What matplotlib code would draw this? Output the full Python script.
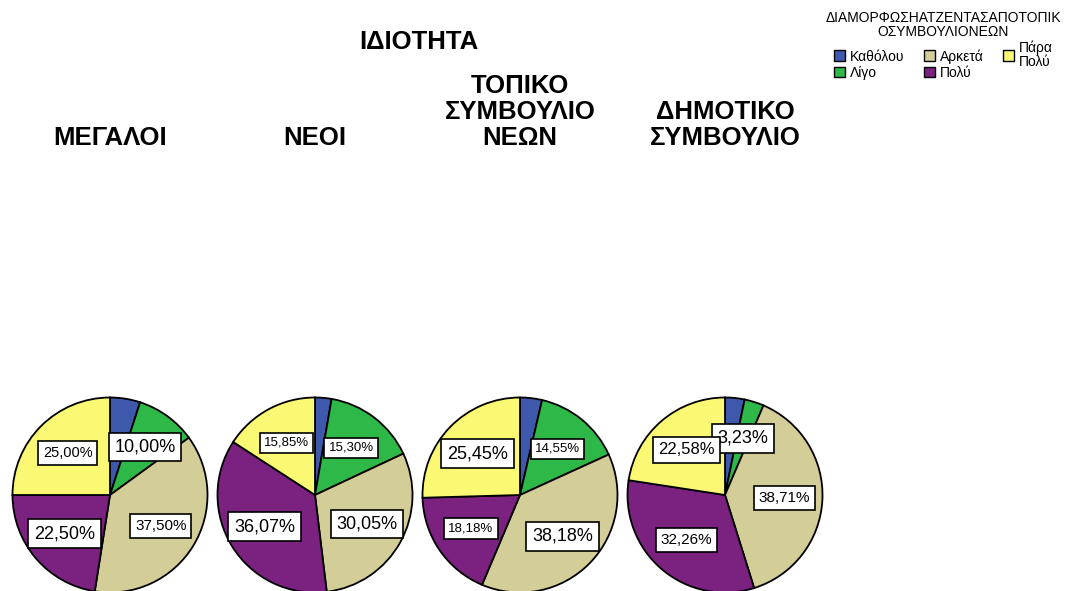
import matplotlib.pyplot as plt
from matplotlib.patches import Patch
import numpy as np

plt.rcParams['font.family'] = ['Liberation Sans', 'DejaVu Sans']

# data
groups = ['ΜΕΓΑΛΟΙ', 'ΝΕΟΙ', 'ΤΟΠΙΚΟ\nΣΥΜΒΟΥΛΙΟ\nΝΕΩΝ', 'ΔΗΜΟΤΙΚΟ\nΣΥΜΒΟΥΛΙΟ']
categories = ['Καθόλου', 'Λίγο', 'Αρκετά', 'Πολύ', 'Πάρα\nΠολύ']
megaloi = [5.00, 10.00, 37.50, 22.50, 25.00]
neoi = [2.73, 15.30, 30.05, 36.07, 15.85]
topiko = [3.64, 14.55, 38.18, 18.18, 25.45]
dimotiko = [3.23, 3.23, 38.71, 32.26, 22.58]
# which slices carry a label (SPSS dropped some)
show_label = [
    [False, True, True, True, True],
    [False, True, True, True, True],
    [False, True, True, True, True],
    [False, True, True, True, True],
]

colors = ['#3E58AC', '#2EB848', '#D3CE97', '#7B2281', '#FBF873']
# label font sizes per slice
label_sizes = [
    [10, 13, 11, 13, 10.5],
    [10, 9.5, 13, 13, 9.5],
    [10, 9.5, 13, 9.5, 13],
    [10, 13, 11, 11, 12],
]

W, H = 1071, 591
fig = plt.figure(figsize=(W / 100, H / 100), dpi=100)

centers_x = [110, 315, 520, 725]
center_y = 495
radius = 97.5

all_data = [megaloi, neoi, topiko, dimotiko]
for i, vals in enumerate(all_data):
    cx = centers_x[i]
    ax = fig.add_axes([(cx - radius) / W, (H - center_y - radius) / H,
                       2 * radius / W, 2 * radius / H])
    wedges, _ = ax.pie(vals, colors=colors, startangle=90, counterclock=False,
                       radius=1, wedgeprops=dict(edgecolor='black', linewidth=1.3))
    for w in wedges:
        w.set_clip_on(False)
    ax.set_xlim(-1, 1)
    ax.set_ylim(-1, 1)
    ax.set_aspect('equal')
    ax.axis('off')
    for j, w in enumerate(wedges):
        if not show_label[i][j]:
            continue
        mid = np.deg2rad((w.theta1 + w.theta2) / 2)
        x = 0.61 * np.cos(mid)
        y = 0.61 * np.sin(mid)
        ax.text(x, y, f'{vals[j]:.2f}%'.replace('.', ','), ha='center', va='center',
                fontsize=label_sizes[i][j],
                bbox=dict(boxstyle='square,pad=0.32', facecolor='white',
                          edgecolor='black', linewidth=1.2))

    fig.text(cx / W, 1 - 145 / H, groups[i], ha='center', va='baseline',
             fontsize=18.5, fontweight='bold', linespacing=1.1)

fig.text(419 / W, 1 - 49 / H, 'ΙΔΙΟΤΗΤΑ', ha='center', va='baseline',
         fontsize=18.5, fontweight='bold')

handles = [Patch(facecolor=c, edgecolor='black', linewidth=1) for c in colors]
leg = fig.legend(handles, categories, ncol=3, loc='upper right',
                 bbox_to_anchor=(1071 / W, 1 - 1 / H), frameon=False,
                 title='ΔΙΑΜΟΡΦΩΣΗΑΤΖΕΝΤΑΣΑΠΟΤΟΠΙΚ\nΟΣΥΜΒΟΥΛΙΟΝΕΩΝ',
                 title_fontsize=10, fontsize=10, handlelength=0.8,
                 handleheight=0.8, handletextpad=0.35, columnspacing=1.4,
                 labelspacing=0.15, borderpad=0.2)
leg.get_title().set_multialignment('center')
leg.get_title().set_linespacing(1.0)
for t in leg.get_texts():
    t.set_linespacing(1.0)

fig.savefig('out.png', dpi=100)
